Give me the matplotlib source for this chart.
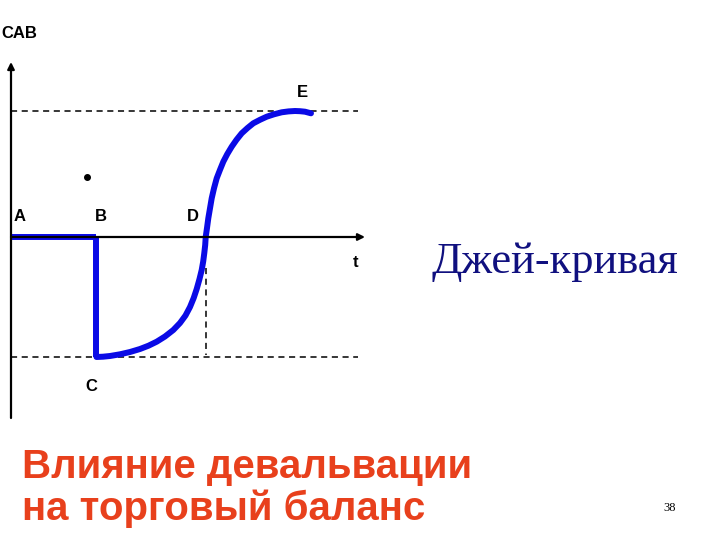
import numpy as np
import matplotlib
matplotlib.use("Agg")
import matplotlib.pyplot as plt

# J-curve points (t, CAB) in diagram units
flat_t = [0.0, 8.5]
flat_cab = [0.0, 0.0]
drop_t = [8.5, 8.5]
drop_cab = [0.0, -12.0]
curve_t = [8.55, 9.2, 9.9, 10.9, 11.9, 12.9, 13.75, 14.57, 15.4, 16.23, 16.9,
           17.45, 17.9, 18.27, 18.57, 18.85, 19.07, 19.22, 19.33, 19.42, 19.47,
           19.6, 19.73, 19.9, 20.07, 20.3, 20.57, 20.9, 21.23, 21.63, 22.07,
           22.55, 23.07, 23.65, 24.23, 24.9, 25.57, 26.3, 27.07, 27.75, 28.4,
           28.9, 29.4, 30.0]
curve_cab = [-12.0, -11.97, -11.9, -11.73, -11.5, -11.2, -10.87, -10.47, -9.95,
             -9.3, -8.6, -7.85, -7.0, -6.1, -5.2, -4.2, -3.3, -2.45,
             -1.6, -0.8, 0.0,
             0.9, 1.87, 2.87, 3.87, 4.87, 5.87, 6.72, 7.53, 8.3, 9.03,
             9.72, 10.37, 10.9, 11.37, 11.72, 12.03, 12.27, 12.47, 12.56, 12.6,
             12.58, 12.53, 12.37]

cab_high = 12.6
cab_low = -12.0
t_cross = 19.5
t_max = 35.4
cab_min, cab_max = -18.1, 17.5

point_labels = ["A", "B", "D", "E", "C"]
label_t = [0.9, 9.0, 18.2, 29.1, 8.0]
label_cab = [2.0, 2.0, 2.0, 14.4, -15.0]

dot_t, dot_cab = 7.6, 6.0

blue = "#0a0ae6"

fig = plt.figure(figsize=(7.2, 5.4), dpi=100)
ax = fig.add_axes([11 / 720, 1 - 418 / 540, 354 / 720, 356 / 540])
ax.set_xlim(0, t_max)
ax.set_ylim(cab_min, cab_max)
ax.axis("off")

# axes with arrows
ax.annotate("", xy=(t_max, 0), xytext=(0, 0),
            arrowprops=dict(arrowstyle="-|>", color="black", lw=1.6,
                            mutation_scale=10, shrinkA=0, shrinkB=0))
ax.annotate("", xy=(0, cab_max), xytext=(0, cab_min),
            arrowprops=dict(arrowstyle="-|>", color="black", lw=1.6,
                            mutation_scale=10, shrinkA=0, shrinkB=0))

# dashed guide lines
ax.plot([0, 34.7], [cab_high, cab_high], color="black", lw=1.1, ls=(0, (4, 3)))
ax.plot([0, 34.7], [cab_low, cab_low], color="black", lw=1.1, ls=(0, (4, 3)))
ax.plot([t_cross, t_cross], [-3.1, -11.8], color="black", lw=1.1, ls=(0, (4, 3)))

# J-curve
ax.plot(flat_t, flat_cab, color=blue, lw=4.3, solid_capstyle="butt", clip_on=False)
ax.plot(drop_t, drop_cab, color=blue, lw=4.3, solid_capstyle="butt")
ax.plot(curve_t, curve_cab, color=blue, lw=4.3, solid_capstyle="round",
        solid_joinstyle="round")

for lab, x, y in zip(point_labels, label_t, label_cab):
    ax.text(x, y, lab, fontsize=12, fontweight="bold", family="Liberation Sans",
            ha="center", va="center")
ax.text(34.5, -2.6, "t", fontsize=12, fontweight="bold", family="Liberation Sans",
        ha="center", va="center")
ax.plot(dot_t, dot_cab, "o", color="black", ms=4)

fig.text(0.002, 1 - 33 / 540, "CAB", fontsize=12, fontweight="bold",
         family="Liberation Sans", ha="left", va="center")

fig.text(432 / 720, 1 - 273 / 540, "Джей-кривая", fontsize=32,
         family="Liberation Serif", color="#10107f", ha="left", va="baseline")

fig.text(22 / 720, 1 - 478 / 540, "Влияние девальвации", fontsize=29,
         fontweight="bold", family="Liberation Sans", color="#e8401c",
         ha="left", va="baseline")
fig.text(22 / 720, 1 - 520 / 540, "на торговый баланс", fontsize=29,
         fontweight="bold", family="Liberation Sans", color="#e8401c",
         ha="left", va="baseline")

fig.text(663 / 720, 1 - 511 / 540, "38", fontsize=9, family="Liberation Serif",
         ha="left", va="baseline")

fig.savefig("out.png", dpi=100)
